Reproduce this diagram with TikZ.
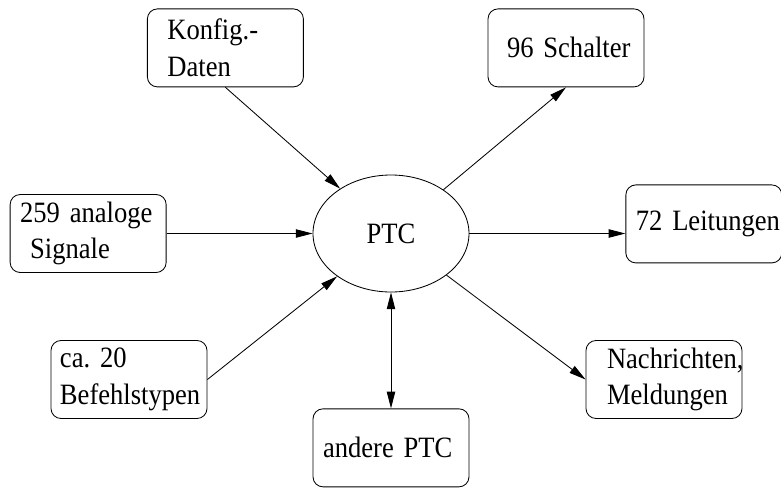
\documentclass[tikz,border=0pt]{standalone}
\usepackage{fontspec}
\setmainfont{Liberation Serif}[FakeStretch=0.9,WordSpace=0.8]
\usepackage{tikz}
\usetikzlibrary{arrows.meta,positioning}
\usetikzlibrary{shapes.geometric}
\tikzset{
  box/.style={draw,rounded corners=0.25cm,minimum width=3.9cm,minimum height=1.95cm,
    inner xsep=0pt,align=left,text width=#1},
  box/.default=3.4cm,
  proc/.style={draw,ellipse,minimum width=3.9cm,minimum height=2.925cm,inner sep=0pt}
}

\begin{document}
\begin{tikzpicture}[font=\fontsize{21}{26}\selectfont,line width=0.6pt,
    >={Triangle[length=0.42cm,width=0.21cm]}]
    \useasboundingbox (-9.775,-6.3375) rectangle (9.75,5.8375);
    \node[proc] (ptc) {PTC};
    \node[box=2.9cm] (konfig) at (-4.14,4.64) {Konfig.-\\Daten};
    \node[box=2.95cm] (schalter) at (4.375,4.64) {\mbox{96 Schalter}};
    \node[box,left=3.65cm of ptc] (analog) {259 analoge\\\hspace*{0.25cm}Signale};
    \node[box,right=3.9cm of ptc,yshift=0.24cm] (leitung) {\mbox{72 Leitungen}};
    \node[box=3.45cm] (befehl) at (-6.55,-3.65) {ca.\ 20\\Befehlstypen};
    \node[box=2.85cm] (nachricht) at (6.825,-3.65) {\mbox{Nachrichten,}\\Meldungen};
    \node[box,below=2.9cm of ptc] (andere) {andere PTC};
    \draw[->] (konfig.south) -- (ptc);
    \draw[->] (analog) -- (ptc);
    \draw[->] (befehl.east) -- (ptc);
    \draw[->] (ptc) -- (schalter.south);
    \draw[->] (ptc.east) -- (ptc.east -| leitung.west);
    \draw[->] (ptc) -- (nachricht.west);
    \draw[<->] (ptc) -- (andere);
\end{tikzpicture}
\end{document}
